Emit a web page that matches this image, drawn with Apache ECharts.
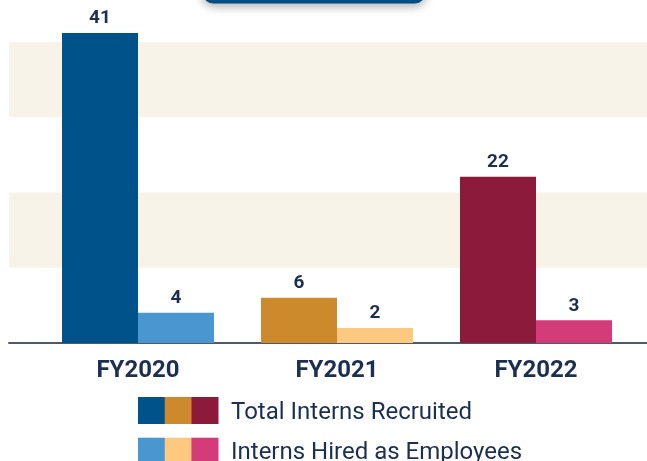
<!DOCTYPE html>
<html>
<head>
<meta charset="utf-8">
<title>Interns Recruited and Hired</title>
<script src="https://cdn.jsdelivr.net/npm/echarts@6/dist/echarts.min.js"></script>
<style>
  html, body { margin: 0; padding: 0; background: #ffffff; }
  #chart { width: 647px; height: 461px; }
</style>
</head>
<body>
<div id="chart"></div>
<script>
// Fiscal years and intern counts
const categories = ['FY2020', 'FY2021', 'FY2022'];
const totalRecruited = [41, 6, 22];
const hiredAsEmployees = [4, 2, 3];

// One colour per fiscal year for each series
const totalColors = ['#00528a', '#cd8a2c', '#8c1a3a'];
const hiredColors = ['#4a96d0', '#fdc97e', '#d43b79'];

const seriesNames = ['Total Interns Recruited', 'Interns Hired as Employees'];

const navy = '#1b2f50';
const font = 'Roboto, "Noto Sans", sans-serif';
const yMax = 41;

function coloredData(values, colors) {
  return values.map((v, i) => ({ value: v, itemStyle: { color: colors[i] } }));
}

// Legend: three colour swatches per row followed by the series name
function legendRow(colors, label, y) {
  const sw = 26.7;
  const items = colors.map((c, i) => ({
    type: 'rect',
    shape: { x: 138 + i * sw, y: y, width: sw + 0.4, height: 27 },
    style: { fill: c }
  }));
  items.push({
    type: 'text',
    x: 231, y: y + 15.5,
    style: {
      text: label, fill: navy, font: '24px ' + font,
      textVerticalAlign: 'middle', verticalAlign: 'middle'
    }
  });
  return items;
}

const chart = echarts.init(document.getElementById('chart'), null, { renderer: 'canvas' });

const valueLabel = {
  show: true, position: 'top', distance: 5,
  color: navy, fontFamily: font, fontSize: 19, fontWeight: 'bold'
};

chart.setOption({
  animation: false,
  backgroundColor: '#ffffff',
  grid: [
    { left: 9, right: 0, top: 34.5, height: 308.5 },   // background bands + baseline
    { left: 38.5, width: 597, top: 33, height: 310 }    // bars
  ],
  xAxis: [
    {
      gridIndex: 0, type: 'value', min: 0, max: 1,
      axisLine: { show: true, lineStyle: { color: '#4b5a72', width: 2 } },
      axisTick: { show: false }, axisLabel: { show: false }, splitLine: { show: false }
    },
    {
      gridIndex: 1, type: 'category', data: categories,
      axisLine: { show: false }, axisTick: { show: false },
      axisLabel: {
        margin: 16, color: navy, fontFamily: font, fontSize: 24, fontWeight: 'bold'
      }
    }
  ],
  yAxis: [
    {
      gridIndex: 0, type: 'value', min: 0, max: yMax, interval: 10,
      axisLine: { show: false }, axisTick: { show: false }, axisLabel: { show: false },
      splitLine: { show: false },
      splitArea: { show: true, areaStyle: { color: ['rgba(255,255,255,0)', '#f7f3e8'] } }
    },
    {
      gridIndex: 1, type: 'value', min: 0, max: yMax, show: false,
      splitLine: { show: false }
    }
  ],
  series: [
    {
      name: seriesNames[0], type: 'bar', xAxisIndex: 1, yAxisIndex: 1,
      barWidth: 76, barGap: '0%',
      data: coloredData(totalRecruited, totalColors),
      label: valueLabel
    },
    {
      name: seriesNames[1], type: 'bar', xAxisIndex: 1, yAxisIndex: 1,
      barWidth: 76, barGap: '0%',
      data: coloredData(hiredAsEmployees, hiredColors),
      label: valueLabel
    }
  ],
  graphic: [
    {
      type: 'rect',
      shape: { x: 203, y: -40, width: 222, height: 43, r: 10 },
      style: {
        fill: '#00528a', stroke: '#0b4474', lineWidth: 1,
        shadowBlur: 10, shadowOffsetY: 3, shadowColor: 'rgba(0,0,0,0.3)'
      }
    },
    ...legendRow(totalColors, seriesNames[0], 397),
    ...legendRow(hiredColors, seriesNames[1], 437.7)
  ]
});
</script>
</body>
</html>
